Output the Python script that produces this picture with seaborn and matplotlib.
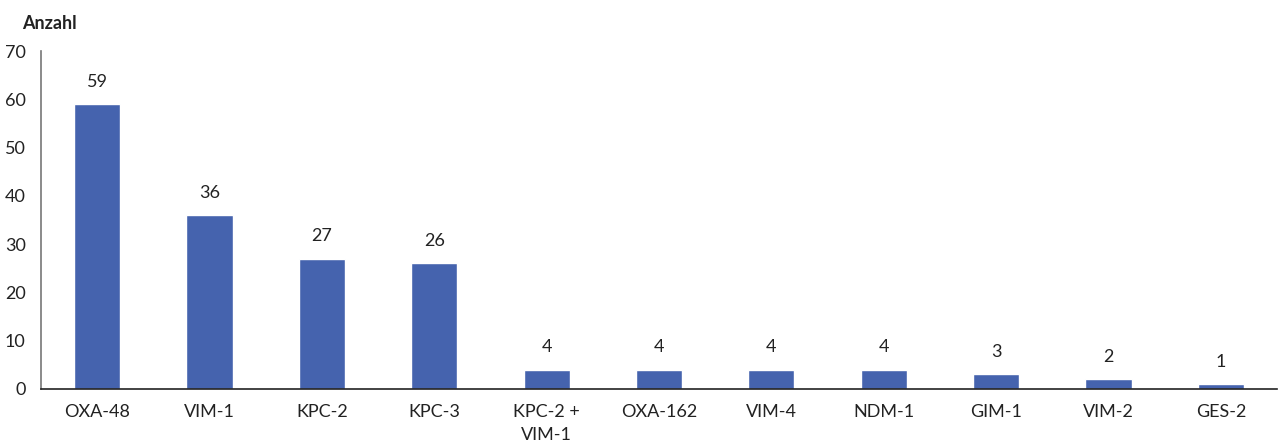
import matplotlib
matplotlib.use('Agg')
import matplotlib.pyplot as plt
import seaborn as sns
import pandas as pd
import numpy as np

categories = ['OXA-48', 'VIM-1', 'KPC-2', 'KPC-3', 'KPC-2 +\nVIM-1', 'OXA-162',
              'VIM-4', 'NDM-1', 'GIM-1', 'VIM-2', 'GES-2']
counts = [59, 36, 27, 26, 4, 4, 4, 4, 3, 2, 1]
y_ticks = [0, 10, 20, 30, 40, 50, 60, 70]

df = pd.DataFrame({'typ': categories, 'anzahl': counts})

sns.set_style('white')
plt.rcParams['font.family'] = ['Lato', 'DejaVu Sans']

fig = plt.figure(figsize=(12.79, 4.45), dpi=100)
ax = fig.add_axes([0.032, 0.126, 0.9665, 0.759])
sns.barplot(data=df, x='typ', y='anzahl', color='#4563ae', saturation=1,
            width=0.41, ax=ax)

for i, v in enumerate(counts):
    ax.text(i, v + 3, str(v), ha='center', va='bottom', fontsize=13, color='#222222')

ax.set_ylim(0, 70)
ax.set_xlim(-0.5, len(categories) - 0.5)
ax.set_yticks(y_ticks)
ax.set_yticklabels([str(t) for t in y_ticks], fontsize=13, color='#222222')

# ticks between categories, labels at centres
ax.set_xticks(np.arange(-0.5, len(categories), 1.0))
ax.set_xticklabels([])
ax.set_xticks(np.arange(len(categories)), minor=True)
ax.set_xticklabels(categories, minor=True, fontsize=13, color='#222222', linespacing=1.5)
ax.tick_params(axis='x', which='major', length=5, width=1, color='#444444', direction='out')
ax.tick_params(axis='x', which='minor', length=0, pad=11)
ax.tick_params(axis='y', length=5, width=1, color='#777777', direction='out', pad=6)

ax.set_xlabel('')
ax.set_ylabel('')
sns.despine(ax=ax)
ax.spines['left'].set_color('#777777')
ax.spines['left'].set_linewidth(1.2)
ax.spines['bottom'].set_color('#222222')
ax.spines['bottom'].set_linewidth(1.2)

fig.text(0.017, 0.935, 'Anzahl', fontsize=13, fontweight='bold', color='#222222')

fig.savefig('out.png', dpi=100)
